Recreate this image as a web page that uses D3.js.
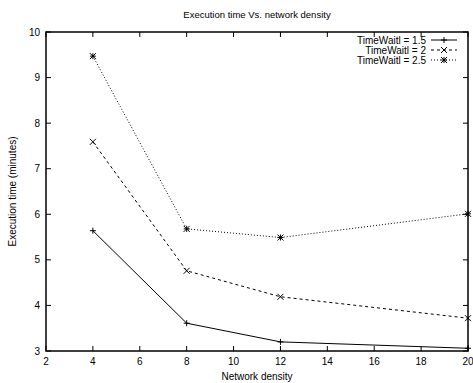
<!DOCTYPE html>
<html><head><meta charset="utf-8">
<script src="https://cdn.jsdelivr.net/npm/d3@7"></script>
<style>body{margin:0;background:#fff}svg{display:block}text{font-family:"Liberation Sans",Arial,sans-serif;fill:#000}</style>
</head><body><svg id="c" width="473" height="383"></svg>
<script>
const xValues = [4, 8, 12, 20];
const seriesNames = ["TimeWaitl = 1.5", "TimeWaitl = 2", "TimeWaitl = 2.5"];
const series15 = [5.64, 3.61, 3.20, 3.06];
const series2 = [7.59, 4.76, 4.19, 3.72];
const series25 = [9.47, 5.68, 5.49, 6.01];
const xTicks = [2, 4, 6, 8, 10, 12, 14, 16, 18, 20];
const yTicks = [3, 4, 5, 6, 7, 8, 9, 10];
const title = "Execution time Vs. network density";
const xLabel = "Network density";
const yLabel = "Execution time (minutes)";

const svg = d3.select("#c");
const L = 46, R = 468, T = 32, B = 351;
const x = d3.scaleLinear().domain([2, 20]).range([L, R]);
const y = d3.scaleLinear().domain([3, 10]).range([B, T]);

const dashes = [null, "3,3", "1,2"];
const markers = ["plus", "cross", "star"];
const allSeries = [series15, series2, series25];

const g = svg.append("g").attr("stroke", "#000").attr("stroke-width", 1);
xTicks.forEach(t => {
  g.append("line").attr("x1", x(t)).attr("x2", x(t)).attr("y1", B).attr("y2", B - 5);
  g.append("line").attr("x1", x(t)).attr("x2", x(t)).attr("y1", T).attr("y2", T + 5);
});
yTicks.forEach(t => {
  g.append("line").attr("x1", L).attr("x2", L + 5).attr("y1", y(t)).attr("y2", y(t));
  g.append("line").attr("x1", R).attr("x2", R - 5).attr("y1", y(t)).attr("y2", y(t));
});
svg.append("g").selectAll("text").data(xTicks).join("text")
  .attr("x", d => x(d)).attr("y", B + 14).attr("text-anchor", "middle")
  .attr("font-size", 10).text(d => d);
svg.append("g").selectAll("text").data(yTicks).join("text")
  .attr("x", L - 6).attr("y", d => y(d) + 3.5).attr("text-anchor", "end")
  .attr("font-size", 10).text(d => d);

function drawMarker(sel, type, cx, cy) {
  const s = 3;
  const m = sel.append("g").attr("stroke", "#000").attr("stroke-width", 1).attr("fill", "none");
  if (type === "plus" || type === "star") {
    m.append("line").attr("x1", cx - s).attr("x2", cx + s).attr("y1", cy).attr("y2", cy);
    m.append("line").attr("x1", cx).attr("x2", cx).attr("y1", cy - s).attr("y2", cy + s);
  }
  if (type === "cross" || type === "star") {
    m.append("line").attr("x1", cx - s).attr("x2", cx + s).attr("y1", cy - s).attr("y2", cy + s);
    m.append("line").attr("x1", cx - s).attr("x2", cx + s).attr("y1", cy + s).attr("y2", cy - s);
  }
}

const line = d3.line().x((d, i) => x(xValues[i])).y(d => y(d));
allSeries.forEach((vals, k) => {
  svg.append("path").datum(vals).attr("d", line).attr("fill", "none")
    .attr("stroke", "#000").attr("stroke-width", 1)
    .attr("stroke-dasharray", dashes[k]);
  vals.forEach((v, i) => drawMarker(svg, markers[k], x(xValues[i]), y(v)));
});

seriesNames.forEach((name, k) => {
  const ly = 40 + k * 10;
  svg.append("text").attr("x", 426).attr("y", ly + 3.5).attr("text-anchor", "end")
    .attr("font-size", 10).text(name);
  svg.append("line").attr("x1", 431).attr("x2", 457).attr("y1", ly).attr("y2", ly)
    .attr("stroke", "#000").attr("stroke-width", 1).attr("stroke-dasharray", dashes[k]);
  drawMarker(svg, markers[k], 444, ly);
});

svg.append("rect").attr("x", L).attr("y", T).attr("width", R - L).attr("height", B - T)
  .attr("fill", "none").attr("stroke", "#000").attr("stroke-width", 1.5);

svg.append("text").attr("x", 257).attr("y", 18).attr("text-anchor", "middle").attr("font-size", 9.5).text(title);
svg.append("text").attr("x", 257).attr("y", 380).attr("text-anchor", "middle").attr("font-size", 10).text(xLabel);
svg.append("text").attr("transform", "translate(16," + ((T + B) / 2) + ") rotate(-90)")
  .attr("text-anchor", "middle").attr("font-size", 10).text(yLabel);
</script></body></html>
